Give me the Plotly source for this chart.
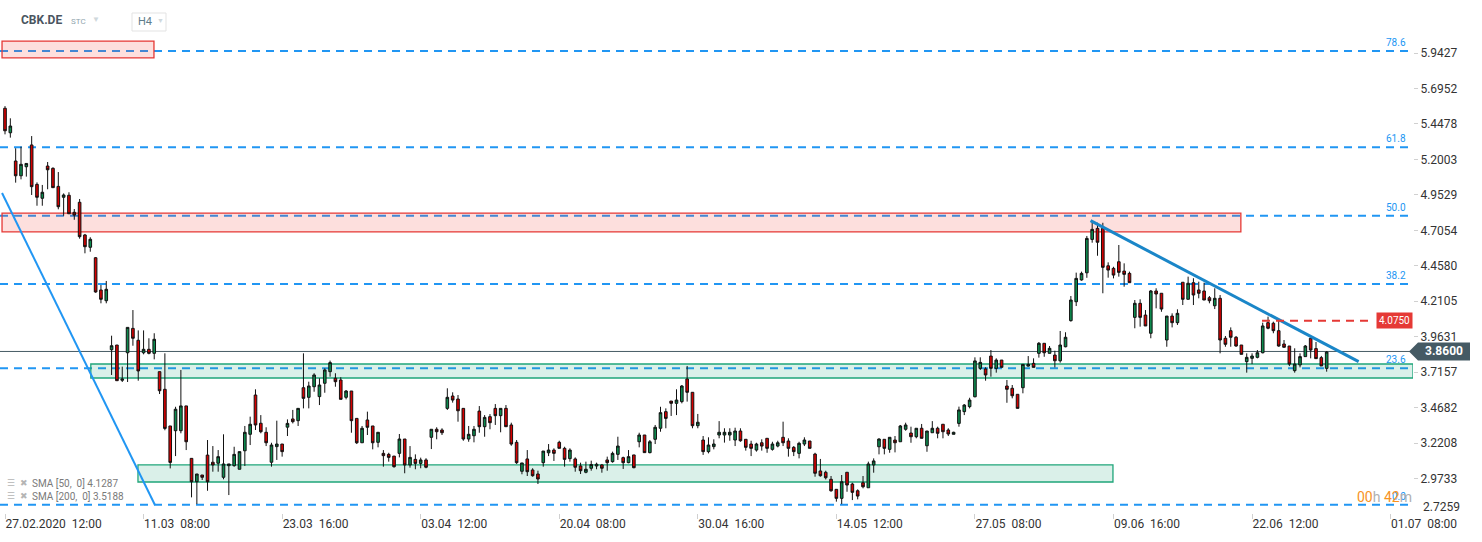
import plotly.graph_objects as go

# CBK.DE, H4 candles (27.02.2020 12:00 -> 29.06.2020)
opens = [
    5.557, 5.386, 5.189, 5.086, 5.149, 5.301, 5.026, 4.929, 5.154, 5.138,
    5.012, 4.936, 4.950, 4.831, 4.901, 4.673, 4.587, 4.514, 4.289, 4.214,
    3.872, 3.905, 3.659, 3.851, 4.021, 3.938, 3.851, 3.875, 3.847, 3.719,
    3.596, 3.340, 3.307, 3.307, 3.480, 3.114, 2.951, 2.998, 3.137, 3.087,
    3.080, 2.982, 3.063, 3.063, 3.038, 3.167, 3.282, 3.556, 3.359, 3.296,
    3.087, 3.196, 3.214, 3.332, 3.389, 3.377, 3.607, 3.540, 3.614, 3.545,
    3.638, 3.719, 3.673, 3.661, 3.540, 3.584, 3.393, 3.223, 3.382, 3.340,
    3.226, 3.149, 3.142, 3.130, 3.149, 3.249, 3.068, 3.107, 3.079, 3.103,
    3.261, 3.317, 3.312, 3.463, 3.549, 3.528, 3.463, 3.249, 3.272, 3.444,
    3.335, 3.405, 3.463, 3.412, 3.463, 3.347, 3.226, 3.024, 3.110, 3.033,
    3.005, 3.084, 3.153, 3.172, 3.226, 3.184, 3.112, 3.110, 3.061, 3.017,
    3.045, 3.061, 3.068, 3.103, 3.091, 3.142, 3.119, 3.084, 3.138, 3.230,
    3.277, 3.154, 3.247, 3.324, 3.440, 3.514, 3.498, 3.510, 3.668, 3.575,
    3.342, 3.242, 3.161, 3.196, 3.277, 3.277, 3.277, 3.242, 3.305, 3.247,
    3.214, 3.172, 3.223, 3.254, 3.177, 3.200, 3.261, 3.235, 3.191, 3.149,
    3.214, 3.235, 3.144, 3.026, 3.017, 2.968, 2.898, 2.835, 3.017, 2.935,
    2.888, 2.944, 2.909, 3.068, 3.195, 3.247, 3.177, 3.242, 3.230, 3.317,
    3.291, 3.265, 3.324, 3.202, 3.293, 3.324, 3.352, 3.312, 3.282, 3.358,
    3.440, 3.475, 3.544, 3.742, 3.738, 3.828, 3.742, 3.800, 3.619, 3.603,
    3.561, 3.607, 3.758, 3.777, 3.847, 3.917, 3.847, 3.835, 3.795, 3.893,
    4.075, 4.207, 4.359, 4.409, 4.642, 4.719, 4.719, 4.458, 4.440, 4.486,
    4.421, 4.405, 4.098, 4.196, 4.114, 3.987, 4.282, 4.266, 3.940, 4.107,
    4.061, 4.343, 4.224, 4.340, 4.289, 4.282, 4.235, 4.179, 4.231, 3.952,
    4.005, 3.959, 3.905, 3.789, 3.812, 3.819, 3.851, 4.061, 4.057, 4.005,
    3.912, 3.898, 3.726, 3.766, 3.824, 3.952, 3.880, 3.817, 3.742,
]
highs = [
    5.572, 5.487, 5.278, 5.289, 5.172, 5.363, 5.040, 5.022, 5.182, 5.145,
    5.112, 4.963, 4.971, 4.854, 4.924, 4.680, 4.657, 4.519, 4.324, 4.352,
    3.970, 3.905, 3.754, 4.028, 4.149, 4.007, 4.007, 3.952, 3.987, 3.719,
    3.847, 3.340, 3.474, 3.731, 3.480, 3.114, 3.005, 2.998, 3.242, 3.200,
    3.172, 3.282, 3.075, 3.195, 3.161, 3.340, 3.405, 3.596, 3.416, 3.331,
    3.223, 3.377, 3.214, 3.386, 3.452, 3.463, 3.847, 3.649, 3.708, 3.673,
    3.742, 3.796, 3.708, 3.680, 3.591, 3.584, 3.393, 3.340, 3.440, 3.340,
    3.296, 3.172, 3.153, 3.130, 3.284, 3.249, 3.200, 3.142, 3.119, 3.115,
    3.317, 3.331, 3.324, 3.603, 3.575, 3.556, 3.463, 3.340, 3.340, 3.479,
    3.416, 3.423, 3.493, 3.463, 3.486, 3.363, 3.242, 3.082, 3.172, 3.045,
    3.028, 3.165, 3.214, 3.184, 3.237, 3.195, 3.184, 3.121, 3.084, 3.091,
    3.098, 3.084, 3.075, 3.126, 3.161, 3.265, 3.126, 3.172, 3.138, 3.293,
    3.277, 3.242, 3.347, 3.474, 3.463, 3.514, 3.596, 3.626, 3.759, 3.575,
    3.424, 3.270, 3.261, 3.247, 3.374, 3.324, 3.324, 3.328, 3.324, 3.247,
    3.237, 3.223, 3.247, 3.254, 3.230, 3.237, 3.370, 3.254, 3.200, 3.230,
    3.261, 3.235, 3.153, 3.110, 3.028, 2.991, 2.898, 2.998, 3.017, 2.944,
    2.898, 2.991, 3.091, 3.114, 3.254, 3.247, 3.261, 3.270, 3.347, 3.363,
    3.335, 3.324, 3.354, 3.305, 3.374, 3.335, 3.352, 3.324, 3.300, 3.475,
    3.493, 3.537, 3.819, 3.819, 3.750, 3.870, 3.812, 3.800, 3.661, 3.626,
    3.561, 3.770, 3.828, 3.812, 3.926, 3.917, 3.898, 3.865, 4.003, 3.994,
    4.247, 4.410, 4.417, 4.666, 4.765, 4.758, 4.758, 4.482, 4.451, 4.603,
    4.475, 4.417, 4.219, 4.224, 4.149, 4.289, 4.301, 4.266, 4.107, 4.126,
    4.154, 4.343, 4.382, 4.371, 4.347, 4.340, 4.247, 4.301, 4.254, 3.968,
    4.028, 3.968, 3.905, 3.847, 3.847, 3.870, 4.061, 4.103, 4.068, 4.080,
    3.940, 3.898, 3.882, 3.847, 3.905, 3.956, 3.926, 3.829, 3.863,
]
lows = [
    5.375, 5.352, 5.038, 5.061, 5.080, 4.952, 4.877, 4.877, 4.992, 5.003,
    4.852, 4.807, 4.821, 4.779, 4.647, 4.545, 4.556, 4.270, 4.196, 4.196,
    3.696, 3.656, 3.647, 3.647, 3.900, 3.656, 3.840, 3.840, 3.805, 3.563,
    3.310, 3.044, 3.130, 3.289, 3.172, 2.842, 2.795, 2.963, 2.888, 3.021,
    3.021, 2.968, 2.858, 3.056, 3.038, 3.061, 3.207, 3.312, 3.289, 3.200,
    3.056, 3.103, 3.126, 3.270, 3.358, 3.340, 3.463, 3.463, 3.579, 3.486,
    3.572, 3.684, 3.614, 3.526, 3.526, 3.293, 3.214, 3.223, 3.277, 3.177,
    3.191, 3.056, 3.091, 3.049, 3.121, 3.010, 3.049, 3.038, 3.045, 3.045,
    3.179, 3.247, 3.277, 3.452, 3.503, 3.370, 3.237, 3.230, 3.226, 3.293,
    3.265, 3.317, 3.347, 3.296, 3.335, 3.202, 3.075, 3.003, 2.991, 2.986,
    2.935, 3.056, 3.130, 3.096, 3.184, 3.056, 3.091, 3.021, 3.005, 3.010,
    3.028, 3.038, 3.014, 3.028, 3.084, 3.103, 3.040, 3.080, 3.045, 3.191,
    3.154, 3.149, 3.214, 3.300, 3.324, 3.410, 3.416, 3.498, 3.510, 3.324,
    3.324, 3.138, 3.149, 3.177, 3.254, 3.224, 3.237, 3.200, 3.230, 3.168,
    3.130, 3.161, 3.168, 3.153, 3.168, 3.191, 3.200, 3.126, 3.130, 3.114,
    3.200, 3.184, 2.986, 2.986, 2.967, 2.881, 2.812, 2.795, 2.881, 2.823,
    2.828, 2.905, 2.909, 3.014, 3.142, 3.142, 3.153, 3.156, 3.230, 3.307,
    3.223, 3.254, 3.254, 3.160, 3.293, 3.254, 3.254, 3.270, 3.282, 3.335,
    3.416, 3.463, 3.540, 3.731, 3.656, 3.684, 3.712, 3.749, 3.502, 3.533,
    3.463, 3.568, 3.754, 3.749, 3.817, 3.823, 3.847, 3.749, 3.782, 3.889,
    4.068, 4.177, 4.354, 4.374, 4.619, 4.528, 4.266, 4.375, 4.370, 4.382,
    4.312, 4.340, 4.022, 4.033, 4.038, 3.952, 4.161, 4.137, 3.893, 4.028,
    4.045, 4.184, 4.224, 4.184, 4.231, 4.219, 4.196, 4.156, 3.847, 3.893,
    3.893, 3.893, 3.840, 3.712, 3.772, 3.812, 3.847, 4.015, 3.987, 3.893,
    3.889, 3.758, 3.712, 3.749, 3.824, 3.812, 3.810, 3.759, 3.719,
]
closes = [
    5.400, 5.433, 5.086, 5.166, 5.172, 5.010, 4.936, 4.971, 5.128, 5.003,
    4.870, 4.952, 4.821, 4.812, 4.661, 4.591, 4.643, 4.275, 4.224, 4.294,
    3.900, 3.656, 3.668, 4.028, 3.952, 3.724, 3.875, 3.847, 3.945, 3.586,
    3.323, 3.086, 3.457, 3.480, 3.230, 2.951, 3.005, 2.982, 2.951, 3.068,
    3.126, 3.075, 3.075, 3.142, 3.161, 3.296, 3.352, 3.347, 3.300, 3.223,
    3.207, 3.214, 3.161, 3.358, 3.370, 3.463, 3.533, 3.619, 3.696, 3.626,
    3.731, 3.782, 3.649, 3.526, 3.584, 3.377, 3.223, 3.324, 3.331, 3.223,
    3.296, 3.133, 3.121, 3.056, 3.249, 3.068, 3.121, 3.079, 3.103, 3.052,
    3.317, 3.300, 3.293, 3.540, 3.521, 3.446, 3.249, 3.282, 3.317, 3.335,
    3.400, 3.363, 3.412, 3.463, 3.335, 3.214, 3.084, 3.082, 3.021, 2.993,
    2.970, 3.165, 3.172, 3.149, 3.184, 3.107, 3.172, 3.052, 3.028, 3.038,
    3.071, 3.073, 3.045, 3.084, 3.149, 3.200, 3.084, 3.126, 3.049, 3.277,
    3.154, 3.230, 3.331, 3.433, 3.393, 3.498, 3.521, 3.619, 3.575, 3.342,
    3.366, 3.161, 3.207, 3.214, 3.296, 3.296, 3.296, 3.305, 3.237, 3.191,
    3.184, 3.214, 3.200, 3.184, 3.214, 3.223, 3.223, 3.184, 3.161, 3.219,
    3.242, 3.184, 3.010, 2.993, 2.979, 2.888, 2.835, 2.951, 2.928, 2.877,
    2.851, 2.916, 3.075, 3.096, 3.249, 3.184, 3.261, 3.223, 3.340, 3.347,
    3.265, 3.324, 3.254, 3.305, 3.324, 3.289, 3.300, 3.284, 3.296, 3.452,
    3.486, 3.521, 3.794, 3.784, 3.696, 3.742, 3.800, 3.749, 3.596, 3.551,
    3.463, 3.770, 3.770, 3.749, 3.917, 3.851, 3.882, 3.795, 3.905, 3.959,
    4.219, 4.370, 4.405, 4.649, 4.712, 4.622, 4.447, 4.428, 4.393, 4.412,
    4.398, 4.340, 4.196, 4.098, 4.038, 4.282, 4.261, 4.156, 4.107, 4.061,
    4.126, 4.224, 4.336, 4.254, 4.266, 4.219, 4.214, 4.231, 3.940, 3.910,
    3.959, 3.898, 3.840, 3.819, 3.828, 3.851, 4.038, 4.022, 4.005, 3.898,
    3.889, 3.772, 3.772, 3.824, 3.898, 3.870, 3.810, 3.759, 3.856,
]

x_tick_labels = [
    "27.02.2020\u00a0\u00a012:00", "11.03\u00a0\u00a008:00", "23.03\u00a0\u00a016:00",
    "03.04\u00a0\u00a012:00", "20.04\u00a0\u00a008:00", "30.04\u00a0\u00a016:00",
    "14.05\u00a0\u00a012:00", "27.05\u00a0\u00a008:00", "09.06\u00a0\u00a016:00",
    "22.06\u00a0\u00a012:00", "01.07\u00a0\u00a008:00",
]
bars_per_label = 26

y_ticks = [5.9427, 5.6952, 5.4478, 5.2003, 4.9529, 4.7054, 4.4580,
           4.2105, 3.9631, 3.7157, 3.4682, 3.2208, 2.9733, 2.7259]

# fibonacci retracement levels (label, price)
fib_labels = ["78.6", "61.8", "50.0", "38.2", "23.6", "0.0"]
fib_prices = [5.957, 5.285, 4.807, 4.331, 3.742, 2.791]

# supply (red) and demand (green) zones: x in bar index, y in price
zone_x0 = [-0.56, -0.56, 16.1, 24.95]
zone_x1 = [27.95, 231.9, 264.2, 207.9]
zone_y0 = [5.908, 4.694, 3.675, 2.949]
zone_y1 = [6.026, 4.826, 3.7725, 3.068]
zone_kind = ["supply", "supply", "demand", "demand"]

# trend lines: (x0, y0, x1, y1)
trend_lines = [(-0.56, 4.966, 28.14, 2.789), (203.7, 4.7725, 254.0, 3.789)]

last_price = 3.86
alert_price = 4.075
sma_text = ["SMA [50,  0] 4.1287", "SMA [200,  0] 3.5188"]

# plot box in pixels (for the overlays that sit in the margins)
W, H = 1482, 542
PL, PR, PT, PB = 0, 1413, 35, 513
Y_RANGE = [2.7328, 6.0683]


def px(x):
    return (x - PL) / (PR - PL)


def py(y):
    return (PB - y) / (PB - PT)


def label(x, y, text, size, color, xanchor="left"):
    return dict(xref="paper", yref="paper", x=px(x), y=py(y), text=text, showarrow=False,
                xanchor=xanchor, yanchor="middle", font=dict(size=size, color=color))


idx = list(range(len(opens)))

fig = go.Figure()
fig.add_trace(go.Candlestick(
    x=idx, open=opens, high=highs, low=lows, close=closes,
    increasing=dict(line=dict(color="#111111", width=1), fillcolor="#0d8a4e"),
    decreasing=dict(line=dict(color="#111111", width=1), fillcolor="#d50000"),
    whiskerwidth=0, showlegend=False, hoverinfo="skip",
))

shapes = []
for x0, x1, y0, y1, kind in zip(zone_x0, zone_x1, zone_y0, zone_y1, zone_kind):
    if kind == "supply":
        fill, edge = "rgba(244,67,54,0.17)", "#e53935"
    else:
        fill, edge = "rgba(38,166,122,0.17)", "#1fa57a"
    shapes.append(dict(type="rect", xref="x", yref="y", x0=x0, x1=x1, y0=y0, y1=y1,
                       fillcolor=fill, line=dict(color=edge, width=1.3), layer="below"))

# last price line
shapes.append(dict(type="line", xref="paper", yref="y", x0=0, x1=1, y0=last_price, y1=last_price,
                   line=dict(color="#455a64", width=1), layer="below"))

for p in fib_prices:
    shapes.append(dict(type="line", xref="paper", yref="y", x0=0, x1=1, y0=p, y1=p,
                       line=dict(color="#2196f3", width=2, dash="8px,6px"), layer="below"))

shapes.append(dict(type="line", xref="x", yref="y",
                   x0=trend_lines[0][0], y0=trend_lines[0][1], x1=trend_lines[0][2], y1=trend_lines[0][3],
                   line=dict(color="#2196f3", width=2)))
shapes.append(dict(type="line", xref="x", yref="y",
                   x0=trend_lines[1][0], y0=trend_lines[1][1], x1=trend_lines[1][2], y1=trend_lines[1][3],
                   line=dict(color="#1a86c8", width=3)))

# alert line + label
shapes.append(dict(type="line", xref="paper", yref="y", x0=px(1262), x1=px(1372), y0=alert_price, y1=alert_price,
                   line=dict(color="#e53935", width=2, dash="8px,6px")))

# current price tag (arrow shaped)
hh = 9 * (Y_RANGE[1] - Y_RANGE[0]) / (PB - PT)
shapes.append(dict(type="path", xref="paper", yref="y", fillcolor="#455a64", line=dict(width=0),
                   path=(f"M {px(1409)},{last_price} L {px(1418)},{last_price + hh} L {px(1470)},{last_price + hh} "
                         f"L {px(1470)},{last_price - hh} L {px(1418)},{last_price - hh} Z")))

# timeframe box
shapes.append(dict(type="rect", xref="paper", yref="paper", x0=px(132), x1=px(166), y0=py(31), y1=py(13),
                   line=dict(color="#e3e3e3", width=1), fillcolor="white"))

annotations = []
for lab, p in zip(fib_labels, fib_prices):
    annotations.append(dict(xref="paper", yref="y", x=px(1408), y=p, text=lab, showarrow=False,
                            xanchor="right", yanchor="bottom", yshift=1,
                            font=dict(size=10, color="#2196f3")))

annotations += [
    dict(xref="paper", yref="y", x=px(1444), y=last_price, text="<b>3.8600</b>", showarrow=False,
         xanchor="center", yanchor="middle", font=dict(size=12, color="white")),
    dict(xref="paper", yref="y", x=px(1413), y=alert_price, text="4.0750", showarrow=False,
         xanchor="right", yanchor="middle", bgcolor="#e53935", borderpad=2,
         font=dict(size=10, color="white")),
    label(1421, 507, "2.7259", 12, "#333333"),
    label(1355, 497, ("<span style='color:#f7931e'>00</span><span style='color:#b0b0b0'>h</span>"
                      "<span style='color:#f7931e'> 42</span><span style='color:#b0b0b0'>m</span>"),
          14, "#f7931e"),
    label(19, 20, "<b>CBK.DE</b>", 12, "#4a5560"),
    label(69, 21, "STC", 8, "#90a4ae"),
    label(90, 20, "\u25bc", 8, "#cfd8dc"),
    label(136, 21, "H4", 11, "#607d8b"),
    label(155, 21, "\u25bc", 7, "#cfd8dc"),
]
for i, t in enumerate(sma_text):
    yy = 483 + 13 * i
    annotations.append(label(5, yy, "\u2630", 9, "#b5b5b5"))
    annotations.append(label(18, yy, "\u2716", 9, "#b5b5b5"))
    annotations.append(label(30, yy, t, 10, "#7a7a7a"))

fig.update_layout(
    width=W, height=H,
    margin=dict(l=PL, r=W - PR, t=PT, b=H - PB),
    paper_bgcolor="white", plot_bgcolor="white",
    font=dict(family="Roboto, Arial, sans-serif", color="#333333"),
    showlegend=False,
    shapes=shapes, annotations=annotations,
    xaxis=dict(
        range=[-0.94, 264.2], rangeslider=dict(visible=False),
        showgrid=False, zeroline=False, showline=False,
        tickmode="array",
        tickvals=[i * bars_per_label for i in range(len(x_tick_labels))],
        ticktext=x_tick_labels,
        ticks="outside", ticklen=5, tickcolor="#d0d0d0",
        ticklabelposition="outside right",
        tickfont=dict(size=12, color="#333333"),
    ),
    yaxis=dict(
        side="right", range=Y_RANGE,
        showgrid=False, zeroline=False, showline=False,
        tickmode="array", tickvals=y_ticks[:-1],
        ticktext=[f"{v:.4f}" for v in y_ticks[:-1]],
        ticks="outside", ticklen=4, tickcolor="#d0d0d0",
        tickfont=dict(size=12, color="#333333"),
    ),
)

fig.write_html("out.html", config={"displayModeBar": False},
               post_script="document.body.style.margin='0';")
